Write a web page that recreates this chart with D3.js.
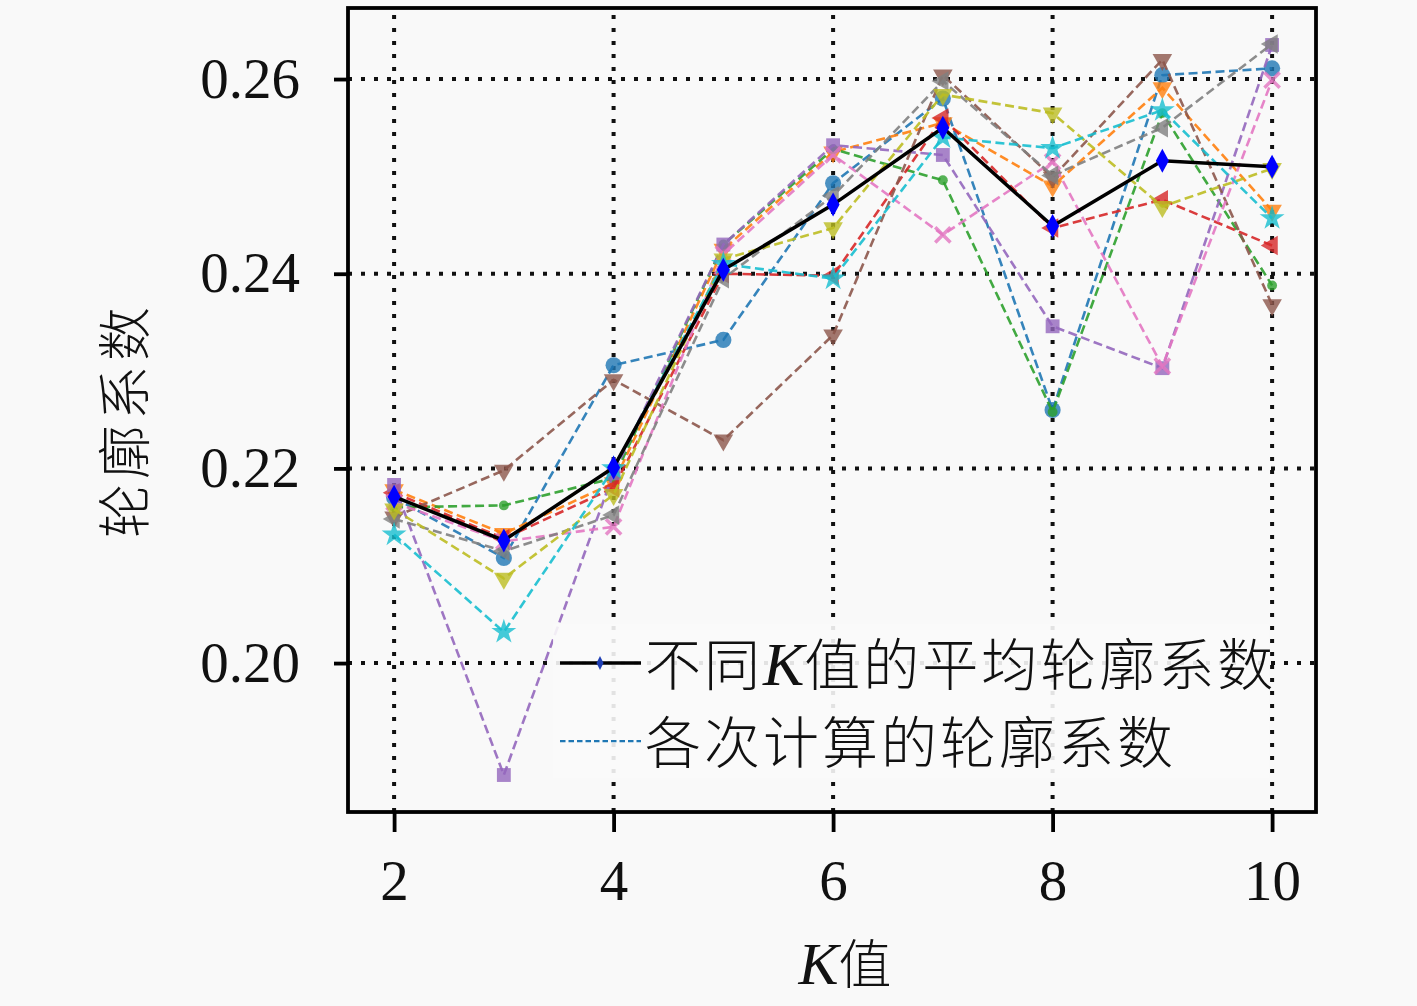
<!DOCTYPE html>
<html>
<head>
<meta charset="utf-8">
<script src="https://cdn.jsdelivr.net/npm/d3@7"></script>
<style>
  html, body { margin: 0; padding: 0; background: #f9f9f9; }
  svg { display: block; }
</style>
</head>
<body>
<svg id="chart" width="1417" height="1006"></svg>
<script>
// ---------------- data ----------------
const kValues = [2, 3, 4, 5, 6, 7, 8, 9, 10];
const meanScores = [0.2171, 0.2126, 0.2201, 0.2404, 0.2471, 0.2550, 0.2449, 0.2516, 0.2510];

const runBlue   = [0.2170, 0.2108, 0.2306, 0.2332, 0.2493, 0.2580, 0.2260, 0.2604, 0.2611];
const runOrange = [0.2178, 0.2133, 0.2185, 0.2425, 0.2525, 0.2555, 0.2490, 0.2591, 0.2465];
const runGreen  = [0.2160, 0.2162, 0.2190, 0.2430, 0.2528, 0.2496, 0.2258, 0.2565, 0.2388];
const runRed    = [0.2175, 0.2128, 0.2180, 0.2400, 0.2398, 0.2560, 0.2447, 0.2476, 0.2429];
const runPurple = [0.2183, 0.1885, 0.2195, 0.2430, 0.2532, 0.2522, 0.2346, 0.2303, 0.2635];
const runBrown  = [0.2150, 0.2198, 0.2291, 0.2229, 0.2337, 0.2604, 0.2499, 0.2620, 0.2368];
const runPink   = [0.2165, 0.2125, 0.2140, 0.2420, 0.2522, 0.2440, 0.2515, 0.2305, 0.2599];
const runGray   = [0.2148, 0.2115, 0.2152, 0.2395, 0.2480, 0.2598, 0.2501, 0.2550, 0.2636];
const runOlive  = [0.2158, 0.2087, 0.2173, 0.2415, 0.2447, 0.2584, 0.2565, 0.2469, 0.2508];
const runCyan   = [0.2132, 0.2032, 0.2200, 0.2410, 0.2395, 0.2540, 0.2529, 0.2568, 0.2457];

const runs = [runBlue, runOrange, runGreen, runRed, runPurple, runBrown, runPink, runGray, runOlive, runCyan];
const runColors = ["#1f77b4", "#ff7f0e", "#2ca02c", "#d62728", "#9467bd", "#8c564b", "#e377c2", "#7f7f7f", "#bcbd22", "#17becf"];
const runMarkers = ["circle", "triDown", "dot", "triLeft", "square", "triDown", "cross", "triLeft", "triDown", "star"];

const xTicks = [2, 4, 6, 8, 10];
const yTicks = [0.20, 0.22, 0.24, 0.26];
const legendLabels = ["不同K值的平均轮廓系数", "各次计算的轮廓系数"];
const xLabel = "K值";
const yLabel = "轮廓系数";

// ---------------- layout ----------------
const L = 348, T = 8, R = 1316, B = 812;
const svg = d3.select("#chart");
svg.append("rect").attr("width", 1417).attr("height", 1006).attr("fill", "#f9f9f9");

const x = d3.scaleLinear().domain([1.58, 10.4]).range([L, R]);
const y = d3.scaleLinear().domain([0.1847, 0.2673]).range([B, T]);

const serif = "'Liberation Serif', 'DejaVu Serif', serif";
const cjk = "'Noto Sans CJK SC', sans-serif";

// grid
const grid = svg.append("g");
grid.selectAll("line.gx").data(xTicks).join("line")
  .attr("x1", d => x(d)).attr("x2", d => x(d)).attr("y1", B).attr("y2", T)
  .attr("stroke", "#111").attr("stroke-width", 4).attr("stroke-dasharray", "4,9");
grid.selectAll("line.gy").data(yTicks).join("line")
  .attr("y1", d => y(d)).attr("y2", d => y(d)).attr("x1", L).attr("x2", R)
  .attr("stroke", "#111").attr("stroke-width", 4).attr("stroke-dasharray", "4,9");

// marker generator
function markerPath(type, s) {
  switch (type) {
    case "circle": return d3.symbol(d3.symbolCircle, s * s * 0.8)();
    case "square": return d3.symbol(d3.symbolSquare, s * s * 0.75)();
    case "dot": return d3.symbol(d3.symbolCircle, s * s * 0.3)();
    case "star": return d3.symbol(d3.symbolStar, s * s * 0.75)();
    case "cross": return d3.symbol(d3.symbolTimes, s * s * 0.6)();
    default: return d3.symbol(d3.symbolTriangle, s * s * 0.65)();
  }
}
function markerRot(type) {
  if (type === "triDown") return 180;
  if (type === "triLeft") return -90;
  return 0;
}

const line = d3.line().x((d, i) => x(kValues[i])).y(d => y(d));

// individual runs
const runsG = svg.append("g");
runs.forEach((vals, si) => {
  runsG.append("path").datum(vals)
    .attr("d", line)
    .attr("fill", "none")
    .attr("stroke", runColors[si])
    .attr("stroke-width", 2.6)
    .attr("stroke-dasharray", "9,4.5")
    .attr("opacity", 0.9);
  runsG.selectAll(null).data(vals).join("path")
    .attr("d", markerPath(runMarkers[si], 16))
    .attr("transform", (d, i) => `translate(${x(kValues[i])},${y(d)}) rotate(${markerRot(runMarkers[si])})`)
    .attr("fill", runColors[si])
    .attr("stroke", runMarkers[si] === "cross" ? runColors[si] : "none")
    .attr("stroke-width", 3.5)
    .attr("opacity", 0.8);
});

// mean line
const meanG = svg.append("g");
meanG.append("path").datum(meanScores)
  .attr("d", line).attr("fill", "none").attr("stroke", "#000").attr("stroke-width", 3.5);
const diamond = "M0,-12L6.5,0L0,12L-6.5,0Z";
meanG.selectAll(null).data(meanScores).join("path")
  .attr("d", diamond)
  .attr("transform", (d, i) => `translate(${x(kValues[i])},${y(d)})`)
  .attr("fill", "#0000ff");

// legend
const lg = svg.append("g");
lg.append("rect").attr("x", 553).attr("y", 624).attr("width", 716).attr("height", 154)
  .attr("fill", "#f9f9f9").attr("opacity", 0.9);
const ly1 = y(0.20), ly2 = ly1 + 78;
lg.append("line").attr("x1", 560).attr("x2", 641).attr("y1", ly1).attr("y2", ly1)
  .attr("stroke", "#000").attr("stroke-width", 3.5);
lg.append("path").attr("d", "M0,-7L3.5,0L0,7L-3.5,0Z").attr("transform", `translate(600,${ly1})`)
  .attr("fill", "#1f3fb4");
lg.append("line").attr("x1", 560).attr("x2", 641).attr("y1", ly2).attr("y2", ly2)
  .attr("stroke", "#1f77b4").attr("stroke-width", 2.4).attr("stroke-dasharray", "5.5,3");

const t1 = lg.append("text").attr("x", 645).attr("y", ly1 + 22)
  .attr("font-size", 56).attr("letter-spacing", 3).attr("fill", "#111").attr("font-family", cjk).attr("font-weight", 300);
t1.append("tspan").text("不同");
t1.append("tspan").text("K").attr("font-family", serif).attr("font-style", "italic").attr("font-size", 62).attr("letter-spacing", 0);
t1.append("tspan").text("值的平均轮廓系数");
lg.append("text").attr("x", 645).attr("y", ly2 + 22)
  .attr("font-size", 56).attr("letter-spacing", 3).attr("fill", "#111").attr("font-family", cjk).attr("font-weight", 300)
  .text(legendLabels[1]);

// frame
svg.append("rect").attr("x", L).attr("y", T).attr("width", R - L).attr("height", B - T)
  .attr("fill", "none").attr("stroke", "#000").attr("stroke-width", 3.8);

// axes
const xAxis = d3.axisBottom(x).tickValues(xTicks).tickSize(20).tickPadding(14).tickFormat(d3.format("d"));
const gx = svg.append("g").attr("transform", `translate(0,${B})`).call(xAxis);
gx.select(".domain").remove();
gx.selectAll(".tick line").attr("stroke", "#000").attr("stroke-width", 3.8);
gx.selectAll(".tick text").attr("font-family", serif).attr("font-size", 57).attr("fill", "#111")
  .attr("dy", null).attr("y", 88);

const yAxis = d3.axisLeft(y).tickValues(yTicks).tickSize(14).tickPadding(34).tickFormat(d3.format(".2f"));
const gy = svg.append("g").attr("transform", `translate(${L},0)`).call(yAxis);
gy.select(".domain").remove();
gy.selectAll(".tick line").attr("stroke", "#000").attr("stroke-width", 3.8);
gy.selectAll(".tick text").attr("font-family", serif).attr("font-size", 57).attr("fill", "#111");

// axis labels
const xl = svg.append("text").attr("x", 845).attr("y", 984).attr("text-anchor", "middle")
  .attr("font-size", 53).attr("fill", "#111").attr("font-family", cjk).attr("font-weight", 300);
xl.append("tspan").text("K").attr("font-family", serif).attr("font-style", "italic").attr("font-size", 60);
xl.append("tspan").text("值");

svg.append("text").attr("transform", "translate(145,420) rotate(-90)").attr("text-anchor", "middle")
  .attr("font-size", 54).attr("letter-spacing", 5).attr("fill", "#111").attr("font-family", cjk).attr("font-weight", 300)
  .text(yLabel);
</script>
</body>
</html>
